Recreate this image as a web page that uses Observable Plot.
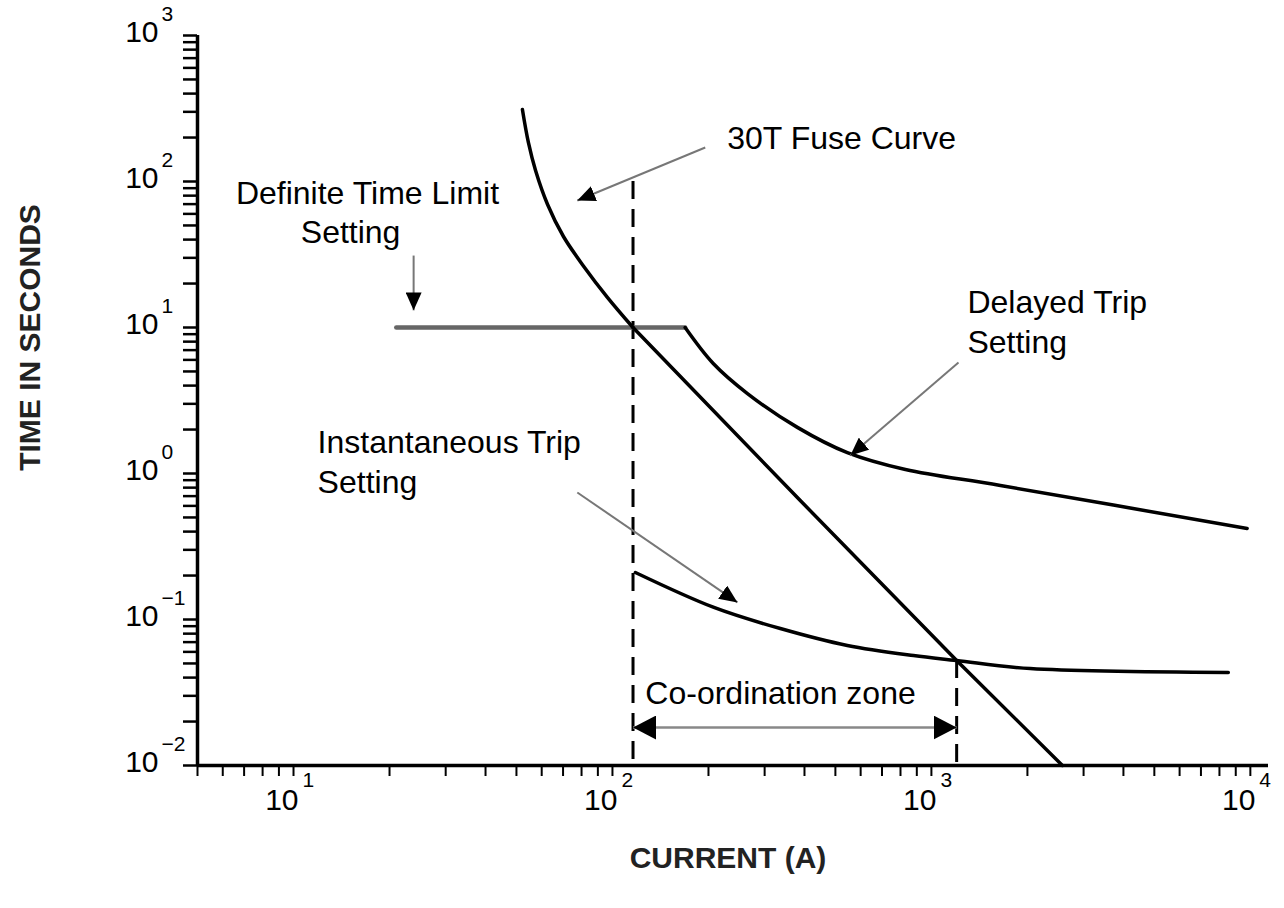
<!DOCTYPE html>
<html>
<head>
<meta charset="utf-8">
<script src="https://cdn.jsdelivr.net/npm/d3@7"></script>
<script src="https://cdn.jsdelivr.net/npm/@observablehq/plot@0.6"></script>
<style>
  html, body { margin: 0; padding: 0; background: #fff; }
  #chart svg { display: block; }
</style>
</head>
<body>
<div id="chart"></div>
<script>
// ---------- data ----------
const xDomain = [5, 11400];          // current (A)
const yDomain = [0.01, 1000];        // time (s)

const xDecades = [10, 100, 1000, 10000];
const xExponents = ["1", "2", "3", "4"];
const yDecades = [0.01, 0.1, 1, 10, 100, 1000];
const yExponents = ["\u22122", "\u22121", "0", "1", "2", "3"];

// 30T fuse curve [current, time]: curved upper part and straight lower part
const fuseUpper = [
  [52.2, 311], [54.5, 185], [57.4, 119], [62.6, 69.6], [70.2, 42.0],
  [81.3, 26.2], [96.4, 16.1], [116, 10]
];
const fuseLower = [[116, 10], [388, 0.653], [1200, 0.0524], [2575, 0.01]];
// definite time limit (flat part)
const definiteTime = [[21, 10], [169, 10]];
// delayed trip setting
const delayedTrip = [
  [169, 10], [207, 5.67], [265, 3.53], [380, 2.07], [545, 1.39],
  [829, 1.065], [1646, 0.828], [9770, 0.42]
];
// instantaneous trip setting
const instantTrip = [
  [118, 0.21], [208, 0.121], [336, 0.0867], [545, 0.0664], [879, 0.0566],
  [1200, 0.0524], [2040, 0.0461], [8530, 0.0434]
];
// dashed co-ordination limits [current, top time]
const dashLimits = [[116, 100], [1200, 0.0524]];
// co-ordination zone double arrow [x1, y1, x2, y2]
const coordArrow = [[116, 0.0182, 1200, 0.0182]];
// annotation arrows [x1, y1, x2, y2] (tip at x2,y2)
const annotArrows = [
  [195.4, 171, 77.6, 74.1],
  [23.8, 31.1, 23.8, 13.1],
  [1216, 5.75, 557, 1.33],
  [77.6, 0.741, 246.6, 0.131]
];
// annotation labels, left-aligned
const leftTexts = ["30T Fuse Curve", "Delayed Trip", "Setting", "Instantaneous Trip", "Setting", "Co-ordination zone"];
const leftX = [229, 1297, 1297, 11.9, 11.9, 126.8];
const leftY = [197, 14.8, 7.88, 1.63, 0.867, 0.0311];
// annotation labels, centred
const midTexts = ["Definite Time Limit", "Setting"];
const midX = [17.06, 15.1];
const midY = [82.8, 44.8];

const xTitle = "CURRENT (A)";
const yTitle = "TIME IN SECONDS";

// ---------- helpers ----------
const xTicks = d3.scaleLog().domain(xDomain).ticks();
const yTicks = d3.scaleLog().domain(yDomain).ticks();
const leftLabels = leftTexts.map((t, i) => ({text: t, x: leftX[i], y: leftY[i]}));
const midLabels = midTexts.map((t, i) => ({text: t, x: midX[i], y: midY[i]}));

function filledArrow(len, half, atStart) {
  return (color, context) => {
    const doc = (context && context.document) || document;
    const ns = "http://www.w3.org/2000/svg";
    const m = doc.createElementNS(ns, "marker");
    m.setAttribute("viewBox", `${-len} ${-half} ${len} ${2 * half}`);
    m.setAttribute("markerWidth", len);
    m.setAttribute("markerHeight", 2 * half);
    m.setAttribute("markerUnits", "userSpaceOnUse");
    m.setAttribute("refX", 0);
    m.setAttribute("refY", 0);
    m.setAttribute("orient", atStart ? "auto-start-reverse" : "auto");
    const p = doc.createElementNS(ns, "path");
    p.setAttribute("d", `M0,0L${-len},${-half}L${-len},${half}Z`);
    p.setAttribute("fill", "#000");
    p.setAttribute("stroke", "none");
    m.appendChild(p);
    return m;
  };
}

const font = "'Liberation Sans', Arial, Helvetica, sans-serif";

const chart = Plot.plot({
  width: 1284,
  height: 908,
  marginLeft: 197,
  marginRight: 16,
  marginTop: 35,
  marginBottom: 143,
  x: {type: "log", domain: xDomain},
  y: {type: "log", domain: yDomain},
  style: {fontFamily: font, background: "#fff", color: "#000", overflow: "visible"},
  marks: [
    // ticks
    Plot.axisX(xTicks, {anchor: "bottom", tickSize: 11, tickFormat: () => "", label: null, strokeWidth: 2}),
    Plot.axisY(yTicks, {anchor: "left", tickSize: 14, tickFormat: () => "", label: null, strokeWidth: 2.5}),
    // axis lines
    Plot.ruleY([yDomain[0]], {x1: xDomain[0], x2: xDomain[1], strokeWidth: 3.5}),
    Plot.ruleX([xDomain[0]], {y1: yDomain[0], y2: yDomain[1], strokeWidth: 3.5}),
    // tick labels
    Plot.text(xDecades, {x: d => d, frameAnchor: "bottom", text: () => "10", textAnchor: "end",
      lineAnchor: "middle", dx: 5, dy: 35, fontSize: 30}),
    Plot.text(xDecades, {x: d => d, frameAnchor: "bottom", text: (d, i) => xExponents[i], textAnchor: "start",
      lineAnchor: "middle", dx: 9, dy: 15, fontSize: 21}),
    Plot.text(yDecades, {y: d => d, frameAnchor: "left", text: () => "10", textAnchor: "end",
      lineAnchor: "middle", dx: -39, dy: -3, fontSize: 30}),
    Plot.text(yDecades, {y: d => d, frameAnchor: "left", text: (d, i) => yExponents[i], textAnchor: "start",
      lineAnchor: "middle", dx: -36, dy: -21, fontSize: 21}),
    // axis titles
    Plot.text([xTitle], {frameAnchor: "bottom", text: d => d, textAnchor: "middle", lineAnchor: "middle",
      dx: -5, dy: 93, fontSize: 30, fontWeight: "bold", fill: "#222"}),
    Plot.text([yTitle], {frameAnchor: "left", text: d => d, textAnchor: "middle", lineAnchor: "middle",
      rotate: -90, dx: -167, dy: -63, fontSize: 30, fontWeight: "bold", fill: "#222"}),
    // dashed limits
    Plot.ruleX(dashLimits, {x: d => d[0], y1: d => d[1], y2: yDomain[0], strokeWidth: 3,
      strokeDasharray: "18,10"}),
    // curves
    Plot.line(definiteTime, {x: d => d[0], y: d => d[1], stroke: "#666", strokeWidth: 4.5}),
    Plot.line(delayedTrip, {x: d => d[0], y: d => d[1], stroke: "#000", strokeWidth: 3.5, curve: "catmull-rom"}),
    Plot.line(instantTrip, {x: d => d[0], y: d => d[1], stroke: "#000", strokeWidth: 3.5, curve: "catmull-rom"}),
    Plot.line(fuseUpper, {x: d => d[0], y: d => d[1], stroke: "#000", strokeWidth: 3.5, curve: "catmull-rom"}),
    Plot.line(fuseLower, {x: d => d[0], y: d => d[1], stroke: "#000", strokeWidth: 3.5, curve: "linear"}),
    // co-ordination arrow
    Plot.link(coordArrow, {x1: d => d[0], y1: d => d[1], x2: d => d[2], y2: d => d[3],
      stroke: "#888", strokeWidth: 2.5,
      markerStart: filledArrow(23, 12, true), markerEnd: filledArrow(23, 12, false)}),
    // annotation arrows
    Plot.link(annotArrows, {x1: d => d[0], y1: d => d[1], x2: d => d[2], y2: d => d[3],
      stroke: "#777", strokeWidth: 2, markerEnd: filledArrow(18, 8, false)}),
    // annotation labels
    Plot.text(leftLabels, {x: "x", y: "y", text: "text", textAnchor: "start", lineAnchor: "middle",
      fontSize: 32, fill: "#000"}),
    Plot.text(midLabels, {x: "x", y: "y", text: "text", textAnchor: "middle", lineAnchor: "middle",
      fontSize: 32, fill: "#000"})
  ]
});

document.getElementById("chart").appendChild(chart);
</script>
</body>
</html>
